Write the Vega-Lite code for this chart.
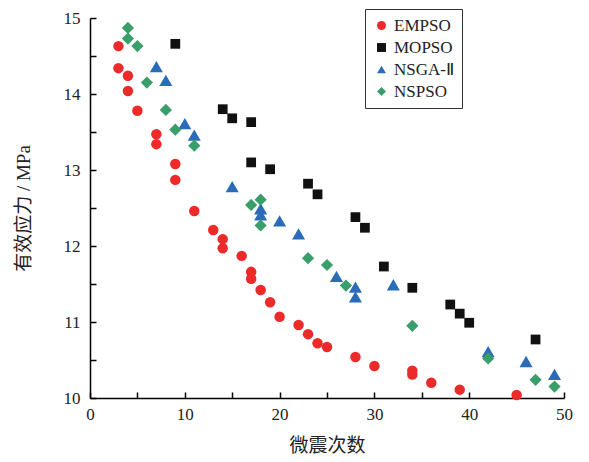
{
  "$schema": "https://vega.github.io/schema/vega-lite/v6.json",
  "width": 474,
  "height": 380,
  "autosize": {"type": "none"},
  "padding": {"left": 90, "top": 18, "right": 25, "bottom": 64},
  "background": "white",
  "config": {
    "view": {"stroke": null},
    "font": "Liberation Serif",
    "axis": {"grid": false, "domainColor": "black", "tickColor": "black", "domainWidth": 1.5, "tickWidth": 1.5,
      "labelFont": "Liberation Serif", "labelFontSize": 17, "labelColor": "#222",
      "titleFont": "Liberation Serif, Noto Sans CJK SC", "titleFontSize": 19, "titleFontWeight": "normal", "titleColor": "#222"}
  },
  "data": {"values": [
    {"n": 3, "s": 14.63, "m": "EMPSO"},
    {"n": 3, "s": 14.34, "m": "EMPSO"},
    {"n": 4, "s": 14.24, "m": "EMPSO"},
    {"n": 4, "s": 14.04, "m": "EMPSO"},
    {"n": 5, "s": 13.78, "m": "EMPSO"},
    {"n": 7, "s": 13.47, "m": "EMPSO"},
    {"n": 7, "s": 13.34, "m": "EMPSO"},
    {"n": 9, "s": 13.08, "m": "EMPSO"},
    {"n": 9, "s": 12.87, "m": "EMPSO"},
    {"n": 11, "s": 12.46, "m": "EMPSO"},
    {"n": 13, "s": 12.21, "m": "EMPSO"},
    {"n": 14, "s": 12.09, "m": "EMPSO"},
    {"n": 14, "s": 11.97, "m": "EMPSO"},
    {"n": 16, "s": 11.87, "m": "EMPSO"},
    {"n": 17, "s": 11.66, "m": "EMPSO"},
    {"n": 17, "s": 11.57, "m": "EMPSO"},
    {"n": 18, "s": 11.42, "m": "EMPSO"},
    {"n": 19, "s": 11.26, "m": "EMPSO"},
    {"n": 20, "s": 11.07, "m": "EMPSO"},
    {"n": 22, "s": 10.96, "m": "EMPSO"},
    {"n": 23, "s": 10.84, "m": "EMPSO"},
    {"n": 24, "s": 10.72, "m": "EMPSO"},
    {"n": 25, "s": 10.67, "m": "EMPSO"},
    {"n": 28, "s": 10.54, "m": "EMPSO"},
    {"n": 30, "s": 10.42, "m": "EMPSO"},
    {"n": 34, "s": 10.36, "m": "EMPSO"},
    {"n": 34, "s": 10.31, "m": "EMPSO"},
    {"n": 36, "s": 10.2, "m": "EMPSO"},
    {"n": 39, "s": 10.11, "m": "EMPSO"},
    {"n": 45, "s": 10.04, "m": "EMPSO"},
    {"n": 9, "s": 14.66, "m": "MOPSO"},
    {"n": 14, "s": 13.8, "m": "MOPSO"},
    {"n": 15, "s": 13.68, "m": "MOPSO"},
    {"n": 17, "s": 13.63, "m": "MOPSO"},
    {"n": 17, "s": 13.1, "m": "MOPSO"},
    {"n": 19, "s": 13.01, "m": "MOPSO"},
    {"n": 23, "s": 12.82, "m": "MOPSO"},
    {"n": 24, "s": 12.68, "m": "MOPSO"},
    {"n": 28, "s": 12.38, "m": "MOPSO"},
    {"n": 29, "s": 12.24, "m": "MOPSO"},
    {"n": 31, "s": 11.73, "m": "MOPSO"},
    {"n": 34, "s": 11.45, "m": "MOPSO"},
    {"n": 38, "s": 11.23, "m": "MOPSO"},
    {"n": 39, "s": 11.11, "m": "MOPSO"},
    {"n": 40, "s": 10.99, "m": "MOPSO"},
    {"n": 47, "s": 10.77, "m": "MOPSO"},
    {"n": 7, "s": 14.36, "m": "NSGA-Ⅱ"},
    {"n": 8, "s": 14.18, "m": "NSGA-Ⅱ"},
    {"n": 10, "s": 13.61, "m": "NSGA-Ⅱ"},
    {"n": 11, "s": 13.46, "m": "NSGA-Ⅱ"},
    {"n": 15, "s": 12.78, "m": "NSGA-Ⅱ"},
    {"n": 18, "s": 12.49, "m": "NSGA-Ⅱ"},
    {"n": 18, "s": 12.41, "m": "NSGA-Ⅱ"},
    {"n": 20, "s": 12.33, "m": "NSGA-Ⅱ"},
    {"n": 22, "s": 12.16, "m": "NSGA-Ⅱ"},
    {"n": 26, "s": 11.6, "m": "NSGA-Ⅱ"},
    {"n": 28, "s": 11.46, "m": "NSGA-Ⅱ"},
    {"n": 28, "s": 11.33, "m": "NSGA-Ⅱ"},
    {"n": 32, "s": 11.49, "m": "NSGA-Ⅱ"},
    {"n": 42, "s": 10.61, "m": "NSGA-Ⅱ"},
    {"n": 46, "s": 10.48, "m": "NSGA-Ⅱ"},
    {"n": 49, "s": 10.31, "m": "NSGA-Ⅱ"},
    {"n": 4, "s": 14.87, "m": "NSPSO"},
    {"n": 4, "s": 14.73, "m": "NSPSO"},
    {"n": 5, "s": 14.63, "m": "NSPSO"},
    {"n": 6, "s": 14.15, "m": "NSPSO"},
    {"n": 8, "s": 13.79, "m": "NSPSO"},
    {"n": 9, "s": 13.53, "m": "NSPSO"},
    {"n": 11, "s": 13.32, "m": "NSPSO"},
    {"n": 17, "s": 12.54, "m": "NSPSO"},
    {"n": 18, "s": 12.61, "m": "NSPSO"},
    {"n": 18, "s": 12.27, "m": "NSPSO"},
    {"n": 23, "s": 11.84, "m": "NSPSO"},
    {"n": 25, "s": 11.75, "m": "NSPSO"},
    {"n": 27, "s": 11.48, "m": "NSPSO"},
    {"n": 34, "s": 10.95, "m": "NSPSO"},
    {"n": 42, "s": 10.52, "m": "NSPSO"},
    {"n": 47, "s": 10.24, "m": "NSPSO"},
    {"n": 49, "s": 10.15, "m": "NSPSO"}
  ]},
  "encoding": {
    "x": {"field": "n", "type": "quantitative", "scale": {"domain": [0, 50], "nice": false},
      "axis": {"title": "微震次数", "values": [0, 5, 10, 15, 20, 25, 30, 35, 40, 45, 50],
        "labelExpr": "datum.value % 10 === 0 ? datum.label : ''", "tickSize": -6, "labelPadding": 14, "titlePadding": 14, "labelFlush": false}},
    "y": {"field": "s", "type": "quantitative", "scale": {"domain": [10, 15], "nice": false, "zero": false},
      "axis": {"title": "有效应力 / MPa", "values": [10, 10.5, 11, 11.5, 12, 12.5, 13, 13.5, 14, 14.5, 15],
        "labelExpr": "datum.value % 1 === 0 ? format(datum.value, 'd') : ''", "tickSize": -6, "labelPadding": 16, "titlePadding": 30, "labelFlush": false}},
    "color": {"field": "m", "type": "nominal",
      "scale": {"domain": ["EMPSO", "MOPSO", "NSGA-Ⅱ", "NSPSO"], "range": ["#ec2a2a", "#111111", "#2a6cb8", "#3a9e6a"]},
      "legend": {"title": null, "orient": "none", "legendX": 275, "legendY": -9, "strokeColor": "#333", "padding": 8,
        "labelFont": "Liberation Serif", "labelFontSize": 17, "labelColor": "#222", "symbolSize": 80, "rowPadding": 4}},
    "shape": {"field": "m", "type": "nominal",
      "scale": {"domain": ["EMPSO", "MOPSO", "NSGA-Ⅱ", "NSPSO"], "range": ["circle", "square", "triangle-up", "diamond"]},
      "legend": null}
  },
  "layer": [
    {"transform": [{"filter": "datum.m === 'EMPSO'"}], "mark": {"type": "point", "filled": true, "opacity": 1, "strokeWidth": 0, "size": 110}},
    {"transform": [{"filter": "datum.m === 'MOPSO'"}], "mark": {"type": "point", "filled": true, "opacity": 1, "strokeWidth": 0, "size": 95}},
    {"transform": [{"filter": "datum.m === 'NSGA-Ⅱ'"}], "mark": {"type": "point", "filled": true, "opacity": 1, "strokeWidth": 0, "size": 170}},
    {"transform": [{"filter": "datum.m === 'NSPSO'"}], "mark": {"type": "point", "filled": true, "opacity": 1, "strokeWidth": 0, "size": 150}}
  ]
}
